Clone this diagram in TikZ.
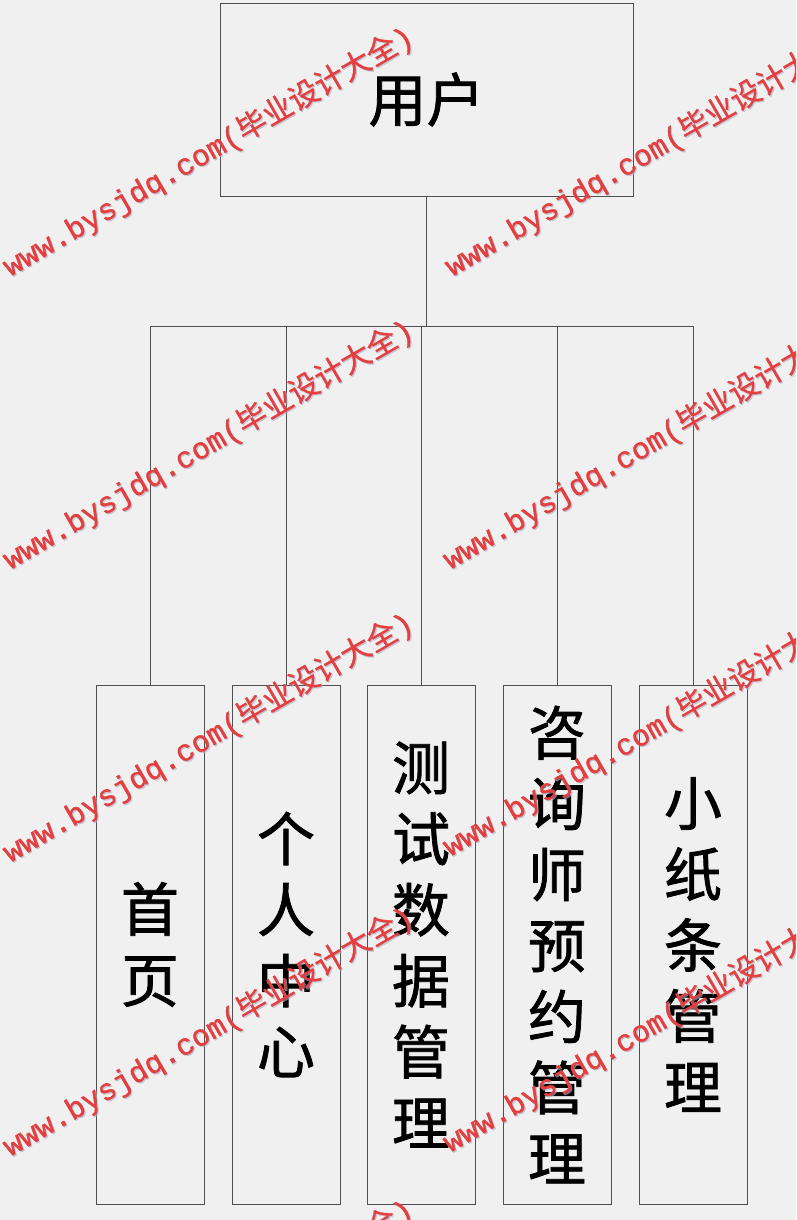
\documentclass[tikz,border=0pt]{standalone}
\usepackage{fontspec}
\setmainfont{Noto Sans CJK SC}[FakeBold=1.3]
\newfontfamily\wmlat{Liberation Mono}[FakeBold=1.2]
\newfontfamily\wmcjk{Noto Sans CJK SC}[FakeBold=0.8]
\definecolor{bgc}{RGB}{240,240,240}
\definecolor{linec}{RGB}{80,80,80}
\definecolor{wmred}{RGB}{228,62,62}
\definecolor{wmshadow}{RGB}{170,175,200}
\newcommand{\wmtext}{{\wmlat www.bysjdq.com(}{\wmcjk 毕业设计大全}{\wmlat )}}
\tikzset{
  topbox/.style={draw=linec, line width=0.9pt, minimum width=413pt, minimum height=193pt, inner sep=0pt, font=\fontsize{58}{72}\selectfont},
  subbox/.style={draw=linec, line width=0.9pt, minimum width=108pt, minimum height=519pt, inner sep=0pt, align=center, font=\fontsize{58}{71}\selectfont},
  conn/.style={draw=linec, line width=0.9pt},
  wm/.style={anchor=base west, rotate=30, inner sep=0pt, text=wmred, font=\fontsize{30}{30}\selectfont},
  wmsh/.style={anchor=base west, rotate=30, inner sep=0pt, text=wmshadow, opacity=0.6, font=\fontsize{30}{30}\selectfont}
}
\begin{document}
\begin{tikzpicture}[x=1pt,y=-1pt]
\fill[bgc] (0,0) rectangle (796,1220);
\useasboundingbox (0,0) rectangle (796,1220);

\node[topbox] (user) at (426.5,99.5) {用户};
\node[subbox] (b1) at (150,944.5) {首\\页};
\node[subbox] (b2) at (286,944.5) {个\\人\\中\\心};
\node[subbox] (b3) at (421,944.5) {测\\试\\数\\据\\管\\理};
\node[subbox] (b4) at (557,944.5) {咨\\询\\师\\预\\约\\管\\理};
\node[subbox] (b5) at (693,944.5) {小\\纸\\条\\管\\理};

\coordinate (bus) at (426.5,326);
\draw[conn] (user.south) -- (bus);
\foreach \b in {b1,b2,b3,b4,b5}{
  \draw[conn] (bus) -| (\b.north);
}

\begin{scope}
\clip (0,0) rectangle (796,1220);
\foreach \px/\py in {10/277, 452/277, 10/570, 450/570, 10/863, 450/857, 10/1157, 450/1153, 10/1450}{
  \node[wmsh] (wmsh-\px-\py) at (\px+1.2,\py+1.2) {\wmtext};
  \node[wm] (wm-\px-\py) at (\px,\py) {\wmtext};
}
\end{scope}
\end{tikzpicture}
\end{document}
